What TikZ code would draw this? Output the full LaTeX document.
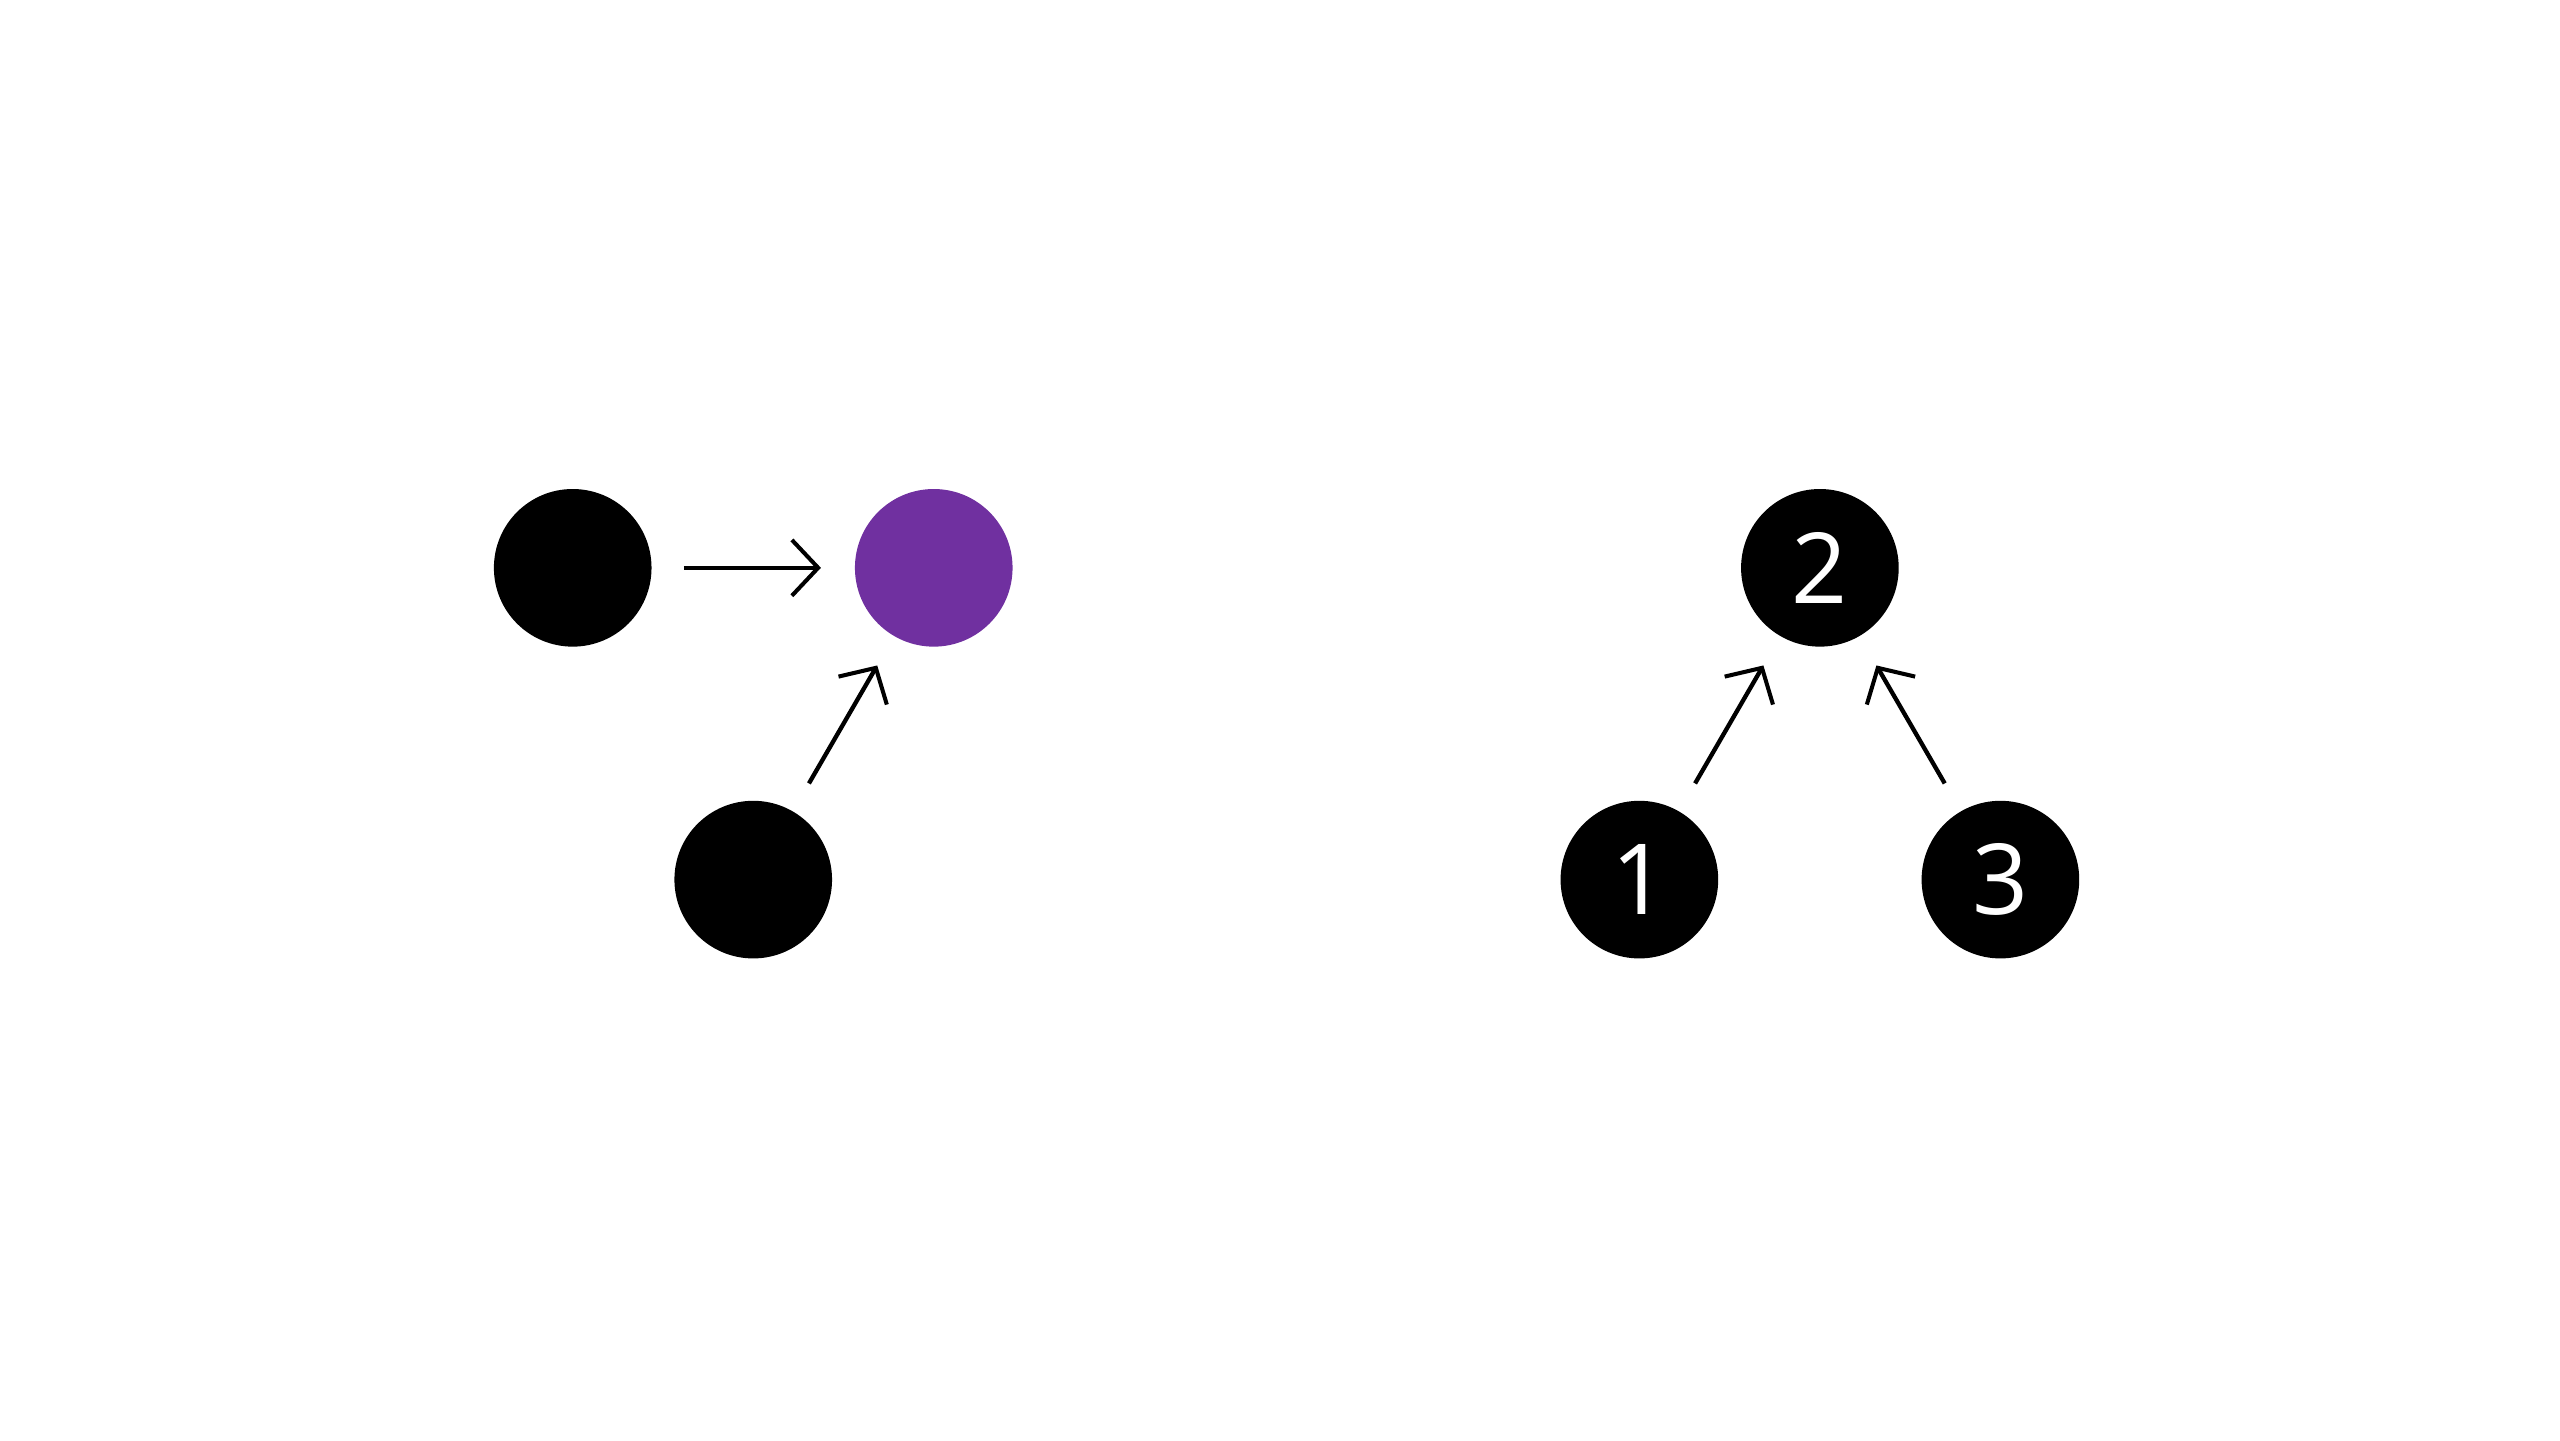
\documentclass[tikz,border=0pt]{standalone}
\usepackage{fontspec}
\setmainfont{Open Sans}
\usetikzlibrary{arrows.meta}
\definecolor{vpurple}{HTML}{7030A0}
\begin{document}
\begin{tikzpicture}[x=0.01cm,y=-0.01cm,
  dot/.style={circle,fill=black,minimum size=0.96cm,inner sep=0pt,text=white,font=\fontsize{17}{17}\selectfont},
  conn/.style={-{Straight Barb[length=0.16cm,width=0.34cm,line width=0.7pt]},line width=0.75pt,shorten <=0.19cm,shorten >=0.2cm}]
\useasboundingbox (0,0) rectangle (1560,877.5);
\node[dot] (a) at (349,346) {};
\node[dot,fill=vpurple] (b) at (569,346) {};
\node[dot] (c) at (459,536) {};
\node[dot] (n2) at (1109,346) {2};
\node[dot] (n1) at (999,536) {1};
\node[dot] (n3) at (1219,536) {3};
\draw[conn] (a) -- (b);
\draw[conn] (c) -- (b);
\draw[conn] (n1) -- (n2);
\draw[conn] (n3) -- (n2);
\end{tikzpicture}
\end{document}
